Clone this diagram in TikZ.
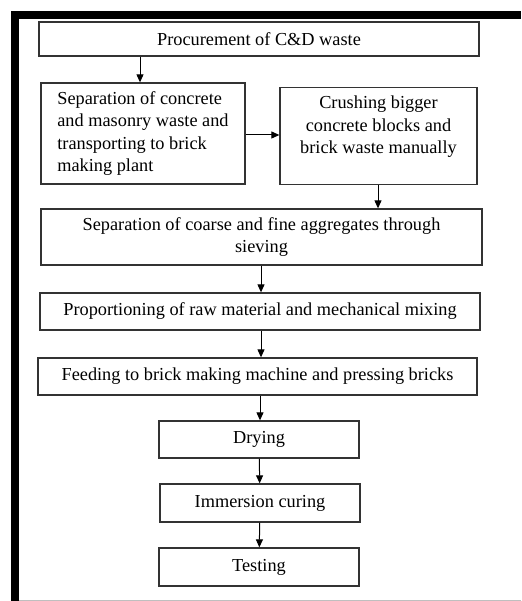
\documentclass[tikz,border=0pt]{standalone}
\usepackage{fontspec}
\setmainfont{Liberation Serif}
\usepackage{tikz}
\usetikzlibrary{arrows.meta, positioning, calc}

\begin{document}
\begin{tikzpicture}[x=1pt, y=-1pt, >={Triangle[length=8pt, width=7pt]},
                stepbox/.style={draw=black!80, line width=1.3pt, inner sep=2pt, align=center,
                        font=\fontsize{18.3}{22.5}\selectfont},
                flow/.style={->, line width=1pt}]
                \useasboundingbox (0,0) rectangle (521,601);
                % frame
                \fill[black] (11,11) rectangle (19,601);
                \fill[black] (11,11) rectangle (521,19);
                \draw[black!25, line width=1pt] (19,600) -- (521,600);
                % boxes
                \node[stepbox, minimum width=440pt, minimum height=34pt] (proc) at (259,39) {Procurement of C\&D waste};
                \node[stepbox, minimum width=204pt, minimum height=101pt, align=left] (sep) at (143,133.5)
                        {Separation of concrete\\and masonry waste and\\transporting to brick\\making plant};
                \node[stepbox, minimum width=197pt, minimum height=97pt, anchor=north] (crush) at (378.5,87)
                        {Crushing bigger\\concrete blocks and\\brick waste manually\\[0pt]};
                \node[stepbox, minimum width=441pt, minimum height=56pt] (sieve) at (261.5,237)
                        {Separation of coarse and fine aggregates through\\sieving};
                \node[stepbox, minimum width=440pt, minimum height=37pt] (mix) at (260,311.5)
                        {Proportioning of raw material and mechanical mixing};
                \node[stepbox, minimum width=439pt, minimum height=37pt] (feed) at (257.5,376.5)
                        {Feeding to brick making machine and pressing bricks};
                \node[stepbox, minimum width=200pt, minimum height=37pt] (dry) at (259,439.5) {Drying};
                \node[stepbox, minimum width=200pt, minimum height=38pt] (cure) at (260,503) {Immersion curing};
                \node[stepbox, minimum width=200pt, minimum height=38pt] (test) at (259,567) {Testing};
                % arrows
                \draw[flow] (proc.south -| 140,0) -- (sep.north -| 140,0);
                \draw[flow] (sep.east |- 0,135) -- (crush.west |- 0,135);
                \draw[flow] (crush.south -| 378,0) -- (sieve.north -| 378,0);
                \draw[flow] (sieve.south -| 261,0) -- (mix.north -| 261,0);
                \draw[flow] (mix.south -| 261,0) -- (feed.north -| 261,0);
                \draw[flow] (feed.south -| 260,0) -- (dry.north -| 260,0);
                \draw[flow] (dry) -- (cure);
                \draw[flow] (cure) -- (test);
        \end{tikzpicture}
\end{document}
